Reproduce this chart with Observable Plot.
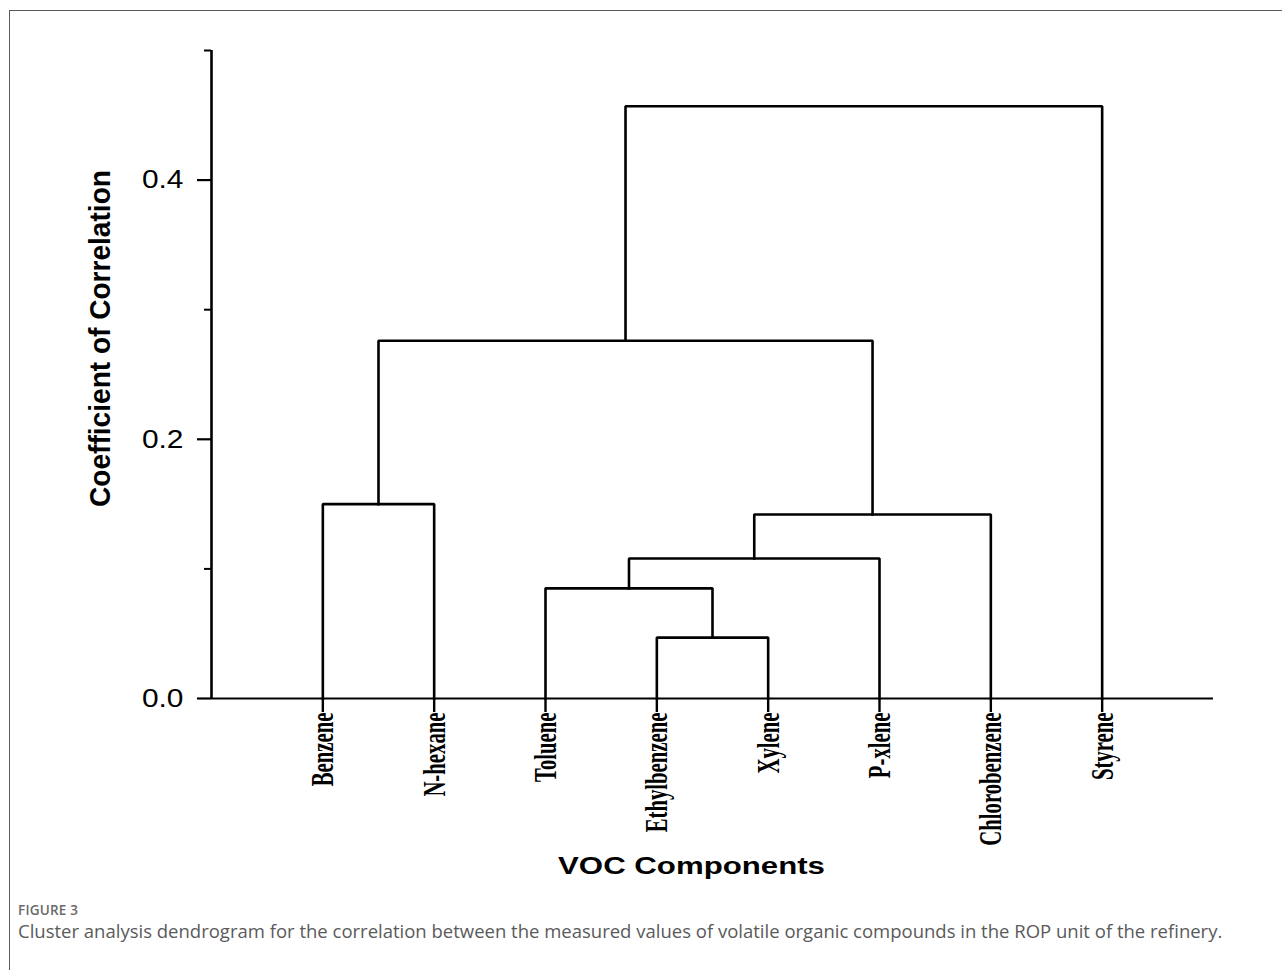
<!DOCTYPE html>
<html>
<head>
<meta charset="utf-8">
<script src="https://cdn.jsdelivr.net/npm/d3@7"></script>
<script src="https://cdn.jsdelivr.net/npm/@observablehq/plot@0.6"></script>
<style>
  html, body { margin: 0; padding: 0; background: #fff; }
  #wrap { position: relative; width: 1282px; height: 970px; overflow: hidden; background: #fff; }
  #frame { position: absolute; left: 9px; top: 10px; width: 1400px; height: 1100px;
           border-top: 1.5px solid #5a5a5a; border-left: 1.5px solid #5a5a5a; box-sizing: border-box; }
  #chart { position: absolute; left: 0; top: 0; }
  #fig { position: absolute; left: 18px; top: 901px; font-family: "Open Sans", sans-serif;
         font-size: 13.5px; font-weight: 600; color: #6a6a6a; letter-spacing: 0.2px; }
  #cap { position: absolute; left: 18px; top: 918px; font-family: "Open Sans", sans-serif;
         font-size: 18.5px; color: #5a5a5a; white-space: nowrap; }
</style>
</head>
<body>
<div id="wrap">
  <div id="frame"></div>
  <div id="chart"></div>
  <div id="fig">FIGURE 3</div>
  <div id="cap">Cluster analysis dendrogram for the correlation between the measured values of volatile organic compounds in the ROP unit of the refinery.</div>
</div>
<script>
// ---- data ----
const leaves = ["Benzene", "N-hexane", "Toluene", "Ethylbenzene", "Xylene", "P-xlene", "Chlorobenzene", "Styrene"];
// merges in linkage order: node ids 0..7 are leaves, 8.. are merges
const mergeLeft   = [3, 2, 9, 10, 0, 12, 13];
const mergeRight  = [4, 8, 5, 6, 1, 11, 7];
const mergeHeight = [0.047, 0.085, 0.108, 0.142, 0.150, 0.276, 0.457];
const majorTicks = [0, 0.2, 0.4];
const minorTicks = [0.1, 0.3, 0.5];
const xTitle = "VOC Components";
const yTitle = "Coefficient of Correlation";

// ---- dendrogram layout ----
const nodeX = leaves.map((_, i) => i);
const nodeH = leaves.map(() => 0);
const segs = [];
mergeLeft.forEach((l, k) => {
  const r = mergeRight[k], h = mergeHeight[k];
  nodeX.push((nodeX[l] + nodeX[r]) / 2);
  nodeH.push(h);
  segs.push({id: k, x: nodeX[l], y: nodeH[l]},
            {id: k, x: nodeX[l], y: h},
            {id: k, x: nodeX[r], y: h},
            {id: k, x: nodeX[r], y: nodeH[r]});
});

const plot = Plot.plot({
  width: 1282,
  height: 880,
  marginLeft: 211,
  marginRight: 69,
  marginTop: 50,
  marginBottom: 182,
  style: {background: "transparent", overflow: "visible"},
  x: {domain: [-1, leaves.length]},
  y: {domain: [0, 0.5]},
  marks: [
    Plot.ruleX([-1], {stroke: "#000", strokeWidth: 2.6}),
    Plot.ruleY([0], {stroke: "#000", strokeWidth: 2}),
    Plot.axisY({ticks: majorTicks, tickSize: 14, tickPadding: 14, tickFormat: d3.format(".1f"),
                fontSize: 26, fontFamily: "Liberation Sans, Arial, sans-serif", fill: "#000",
                stroke: "#000", strokeWidth: 2.2, label: null}),
    Plot.axisY({ticks: minorTicks, tickSize: 7, tickFormat: () => "", stroke: "#000",
                strokeWidth: 2, label: null}),
    Plot.axisX({ticks: d3.range(leaves.length), tickFormat: i => leaves[i], tickSize: 14,
                tickPadding: 0, tickRotate: -90, fontSize: 25, fontWeight: "bold",
                fontFamily: "Liberation Serif, Times New Roman, serif", fill: "#000",
                stroke: "#000", strokeWidth: 2.4, label: null}),
    Plot.line(segs, {x: "x", y: "y", z: "id", stroke: "#000", strokeWidth: 2.6,
                     strokeLinejoin: "miter", strokeLinecap: "square"}),
    Plot.text([xTitle], {text: d => d, frameAnchor: "bottom", textAnchor: "middle", lineAnchor: "middle",
                         dx: -21, dy: 168, fontSize: 24,
                         fontWeight: "bold", fontFamily: "Liberation Sans, Arial, sans-serif",
                         fill: "#000"}),
    Plot.text([yTitle], {text: d => d, frameAnchor: "left", textAnchor: "middle", lineAnchor: "middle",
                         dx: -111, dy: -36, rotate: -90,
                         fontSize: 26, fontWeight: "bold", fontFamily: "Liberation Sans, Arial, sans-serif",
                         fill: "#000"})
  ]
});
document.getElementById("chart").appendChild(plot);

// mimic the horizontally stretched look of the original raster
function addScale(nodes, s) {
  nodes.forEach(t => {
    t.setAttribute("transform", (t.getAttribute("transform") || "") + ` scale(${s})`);
  });
}
const allText = Array.from(plot.querySelectorAll("text"));
addScale(plot.querySelectorAll('g[aria-label="x-axis tick label"] text'), "0.83,1.3");
addScale(plot.querySelectorAll('g[aria-label="y-axis tick label"] text'), "1.15,1");
addScale(allText.filter(t => t.textContent === xTitle), "1.3,1");
addScale(allText.filter(t => t.textContent === yTitle), "1.08,1.1");
</script>
</body>
</html>
